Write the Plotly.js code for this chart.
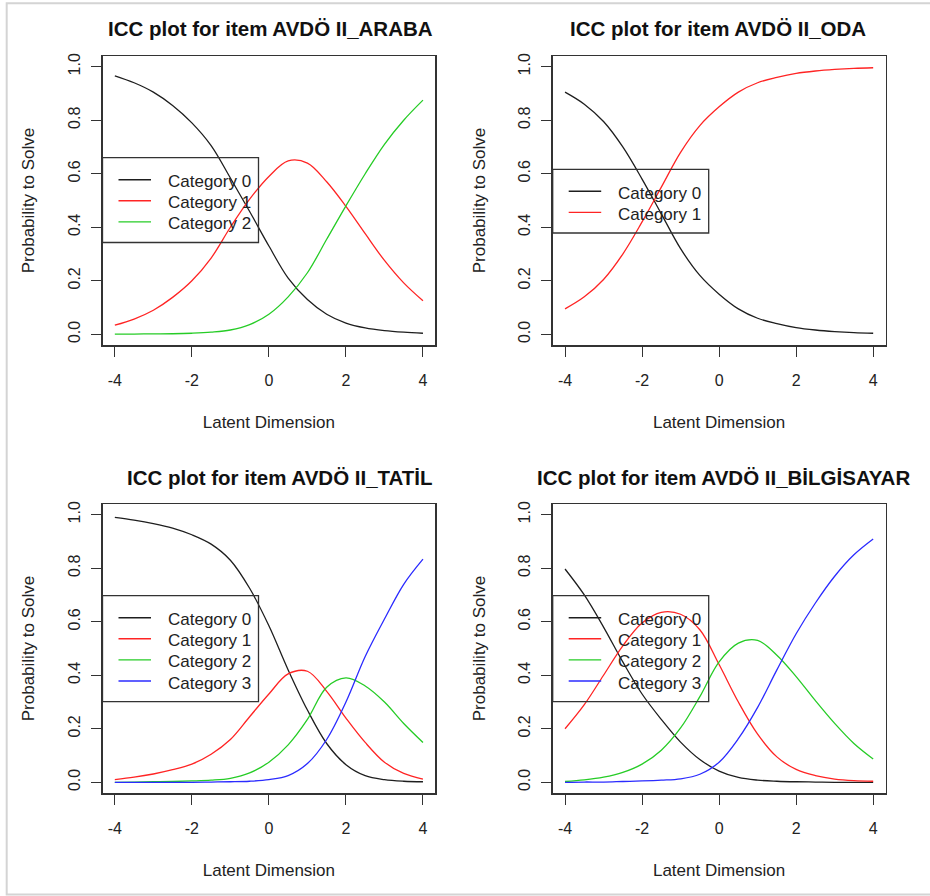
<!DOCTYPE html>
<html>
<head>
<meta charset="utf-8">
<script src="https://cdn.plot.ly/plotly-3.0.1.min.js"></script>
<style>html,body{margin:0;padding:0;background:#fff;}#chart{width:930px;height:896px;}</style>
</head>
<body>
<div id="chart"></div>
<script>
// ---------------- data ----------------
const theta = [-4, -3.5, -3, -2.5, -2, -1.5, -1, -0.5, 0, 0.5, 1, 1.5, 2, 2.5, 3, 3.5, 4];

const categoryNames = ['Category 0', 'Category 1', 'Category 2', 'Category 3'];
const itemTitles = [
  'ICC plot for item AVDÖ II_ARABA',
  'ICC plot for item AVDÖ II_ODA',
  'ICC plot for item AVDÖ II_TATİL',
  'ICC plot for item AVDÖ II_BİLGİSAYAR'
];
const xTickVals = [-4, -2, 0, 2, 4];
const yTickVals = [0, 0.2, 0.4, 0.6, 0.8, 1.0];
const xAxisTitle = 'Latent Dimension';
const yAxisTitle = 'Probability to Solve';

// ARABA
const arabaCat0 = [0.966, 0.94, 0.905, 0.855, 0.79, 0.705, 0.584, 0.459, 0.33, 0.21, 0.13, 0.075, 0.042, 0.024, 0.014, 0.008, 0.004];
const arabaCat1 = [0.034, 0.057, 0.09, 0.138, 0.20, 0.285, 0.40, 0.505, 0.59, 0.648, 0.64, 0.57, 0.478, 0.376, 0.276, 0.192, 0.125];
const arabaCat2 = [0.0005, 0.001, 0.0015, 0.002, 0.004, 0.008, 0.016, 0.036, 0.075, 0.14, 0.23, 0.355, 0.48, 0.60, 0.71, 0.80, 0.875];
// ODA
const odaCat0 = [0.905, 0.86, 0.795, 0.70, 0.58, 0.45, 0.32, 0.22, 0.15, 0.095, 0.06, 0.04, 0.025, 0.016, 0.01, 0.006, 0.004];
const odaCat1 = [0.095, 0.14, 0.205, 0.30, 0.42, 0.55, 0.68, 0.78, 0.85, 0.905, 0.94, 0.96, 0.975, 0.984, 0.99, 0.994, 0.996];
// TATİL
const tatilCat0 = [0.99, 0.98, 0.967, 0.95, 0.925, 0.89, 0.83, 0.725, 0.585, 0.42, 0.27, 0.145, 0.066, 0.025, 0.01, 0.004, 0.002];
const tatilCat1 = [0.01, 0.019, 0.031, 0.047, 0.068, 0.105, 0.16, 0.245, 0.33, 0.405, 0.415, 0.34, 0.24, 0.149, 0.075, 0.033, 0.012];
const tatilCat2 = [0.0, 0.001, 0.002, 0.003, 0.005, 0.008, 0.015, 0.035, 0.075, 0.14, 0.235, 0.355, 0.39, 0.36, 0.30, 0.22, 0.149];
const tatilCat3 = [0.0, 0.0, 0.0, 0.0, 0.0, 0.001, 0.002, 0.004, 0.01, 0.025, 0.07, 0.16, 0.30, 0.47, 0.61, 0.74, 0.834];
// BİLGİSAYAR
const bilgCat0 = [0.797, 0.70, 0.58, 0.45, 0.33, 0.235, 0.15, 0.085, 0.042, 0.018, 0.008, 0.004, 0.002, 0.001, 0.0, 0.0, 0.0];
const bilgCat1 = [0.20, 0.29, 0.40, 0.51, 0.595, 0.635, 0.628, 0.57, 0.44, 0.30, 0.18, 0.095, 0.048, 0.025, 0.012, 0.006, 0.004];
const bilgCat2 = [0.003, 0.009, 0.019, 0.037, 0.068, 0.12, 0.203, 0.32, 0.45, 0.52, 0.53, 0.475, 0.395, 0.305, 0.22, 0.145, 0.087];
const bilgCat3 = [0.0, 0.001, 0.001, 0.003, 0.005, 0.008, 0.013, 0.03, 0.075, 0.163, 0.28, 0.42, 0.555, 0.67, 0.77, 0.85, 0.909];

// ---------------- styling / geometry ----------------
const W = 930, H = 896;
const FONT = '"Liberation Sans", Arial, Helvetica, sans-serif';
const lineColors = ['#1e1e1e', '#ff2424', '#26cc26', '#2b2bff'];
const axisColor = '#333333';

// panel boxes in pixels: [left, right, top, bottom]
const panels = [
  {series: [arabaCat0, arabaCat1, arabaCat2], box: [102.5, 435.3, 56, 345], title: [270, 29], legend: [102.5, 157.7]},
  {series: [odaCat0, odaCat1], box: [552.7, 885.5, 56, 345], title: [717.5, 29], legend: [552.7, 169.3]},
  {series: [tatilCat0, tatilCat1, tatilCat2, tatilCat3], box: [102.5, 435.3, 504, 793], title: [280, 477], legend: [102.5, 595.7]},
  {series: [bilgCat0, bilgCat1, bilgCat2, bilgCat3], box: [552.7, 885.5, 504, 793], title: [723, 477], legend: [552.7, 595.7]}
];

const px = v => v / W;
const py = v => 1 - v / H;

const traces = [];
const layout = {
  width: W, height: H,
  margin: {l: 0, r: 0, t: 0, b: 0},
  paper_bgcolor: '#ffffff', plot_bgcolor: '#ffffff',
  font: {family: FONT, color: '#222222', size: 16},
  showlegend: false,
  annotations: [], shapes: []
};

// outer light frame of the picture
layout.shapes.push({type: 'rect', xref: 'paper', yref: 'paper',
  x0: px(6.7), x1: px(934), y0: py(3.3), y1: py(894.5),
  line: {color: '#d4d4d4', width: 2}, fillcolor: 'rgba(0,0,0,0)'});

panels.forEach((p, i) => {
  const n = i + 1;
  const xa = 'xaxis' + (n === 1 ? '' : n), ya = 'yaxis' + (n === 1 ? '' : n);
  const xr = 'x' + (n === 1 ? '' : n), yr = 'y' + (n === 1 ? '' : n);
  p.series.forEach((vals, k) => {
    traces.push({
      x: theta, y: vals, xaxis: xr, yaxis: yr, type: 'scatter', mode: 'lines',
      name: categoryNames[k],
      line: {color: lineColors[k], width: 1.3, shape: 'spline', smoothing: 1},
      hoverinfo: 'skip'
    });
  });
  layout[xa] = {
    domain: [px(p.box[0]), px(p.box[1])], anchor: yr,
    range: [-4.32, 4.32], tickvals: xTickVals, ticktext: xTickVals.map(String),
    ticks: 'outside', ticklen: 10, tickwidth: 1, tickcolor: axisColor,
    showline: true, mirror: true, linecolor: axisColor, linewidth: 1.5,
    showgrid: false, zeroline: false, fixedrange: true,
    ticklabelstandoff: 10,
    tickfont: {size: 16, family: FONT, color: '#222'},
    title: {text: xAxisTitle, font: {size: 17, family: FONT, color: '#222'}, standoff: 28}
  };
  layout[ya] = {
    domain: [py(p.box[3]), py(p.box[2])], anchor: xr,
    range: [-0.04, 1.04], tickvals: yTickVals, tickformat: '.1f',
    tickangle: -90,
    ticks: 'outside', ticklen: 10, tickwidth: 1, tickcolor: axisColor,
    showline: true, mirror: true, linecolor: axisColor, linewidth: 1.5,
    showgrid: false, zeroline: false, fixedrange: true,
    ticklabelstandoff: 5,
    tickfont: {size: 16, family: FONT, color: '#222'},
    title: {text: yAxisTitle, font: {size: 17, family: FONT, color: '#222'}, standoff: 26}
  };
  // panel title
  layout.annotations.push({
    xref: 'paper', yref: 'paper', x: px(p.title[0]), y: py(p.title[1]),
    xanchor: 'center', yanchor: 'middle', showarrow: false,
    text: '<b>' + itemTitles[i] + '</b>',
    font: {size: 20.5, family: FONT, color: '#111'}
  });
  // legend (R style, transparent background)
  const nCat = p.series.length;
  const lx = p.legend[0], ly = p.legend[1];
  const rowH = 21.1;
  layout.shapes.push({type: 'rect', xref: 'paper', yref: 'paper',
    x0: px(lx), x1: px(lx + 156), y0: py(ly), y1: py(ly + rowH * nCat + 21.5),
    line: {color: axisColor, width: 1.3}, fillcolor: 'rgba(0,0,0,0)', layer: 'above'});
  for (let k = 0; k < nCat; k++) {
    const yy = ly + 22 + k * rowH;
    layout.shapes.push({type: 'line', xref: 'paper', yref: 'paper',
      x0: px(lx + 16), x1: px(lx + 48.5), y0: py(yy), y1: py(yy),
      line: {color: lineColors[k], width: 1.4}, layer: 'above'});
    layout.annotations.push({
      xref: 'paper', yref: 'paper', x: px(lx + 63), y: py(yy + 2),
      xanchor: 'left', yanchor: 'middle', showarrow: false,
      text: categoryNames[k], font: {size: 17, family: FONT, color: '#222'}
    });
  }
});

Plotly.newPlot('chart', traces, layout, {staticPlot: true, displayModeBar: false});
</script>
</body>
</html>
